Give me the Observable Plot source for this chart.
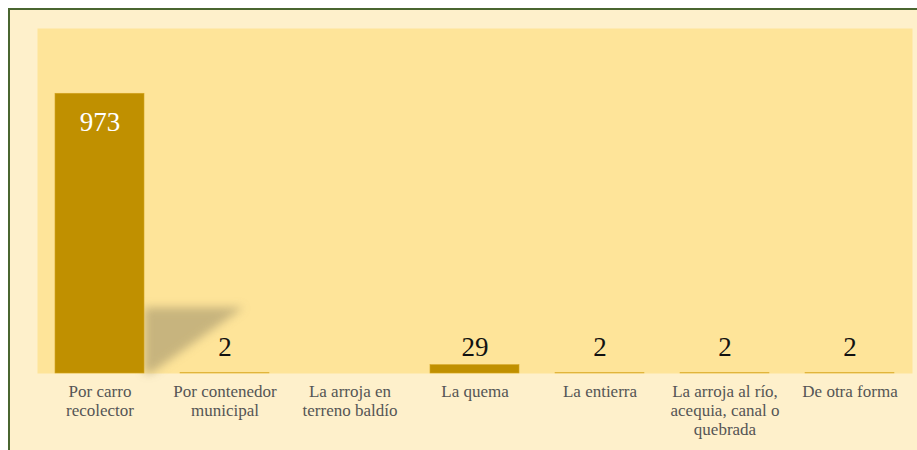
<!DOCTYPE html>
<html>
<head>
<meta charset="utf-8">
<script src="https://cdn.jsdelivr.net/npm/d3@7"></script>
<script src="https://cdn.jsdelivr.net/npm/@observablehq/plot@0.6"></script>
<style>
  html, body { margin: 0; padding: 0; background: #ffffff; width: 917px; height: 450px; overflow: hidden; }
  #frame {
    position: absolute; left: 8px; top: 8px; width: 1000px; height: 500px;
    border: 2px solid #4a6630; background: #fef0cb;
  }
  #chart { position: absolute; left: 10px; top: 10px; }
</style>
</head>
<body>
<div id="frame"></div>
<div id="chart"></div>
<script>
const categories = [
  "Por carro\nrecolector",
  "Por contenedor\nmunicipal",
  "La arroja en\nterreno baldío",
  "La quema",
  "La entierra",
  "La arroja al río,\nacequia, canal o\nquebrada",
  "De otra forma"
];
const values = [973, 2, 0, 29, 2, 2, 2];
const yMax = 1200;

const data = categories.map((c, i) => ({cat: c, value: values[i]}));
const bigThreshold = 500;

// decorative shadow behind the tallest bar, positioned from scales
const shadowMark = (index, scales, vals, dims, context) => {
  const svgNS = "http://www.w3.org/2000/svg";
  const g = document.createElementNS(svgNS, "g");
  const defs = document.createElementNS(svgNS, "defs");
  defs.innerHTML = `<filter id="blurShadow" x="-30%" y="-30%" width="160%" height="160%"><feGaussianBlur stdDeviation="5"/></filter>`;
  g.appendChild(defs);
  const top = data.reduce((a, b) => (b.value > a.value ? b : a));
  const x0 = scales.x(top.cat) + scales.x.bandwidth();
  const y0 = scales.y(0);
  const bw = scales.x.bandwidth();
  const h = (y0 - scales.y(top.value)) * 0.235;
  const p = document.createElementNS(svgNS, "path");
  p.setAttribute("d", `M${x0},${y0} L${x0},${y0 - h} L${x0 + bw * 1.12},${y0 - h} L${x0 + bw * 0.08},${y0} Z`);
  p.setAttribute("fill", "#b5a474");
  p.setAttribute("opacity", "0.75");
  p.setAttribute("filter", "url(#blurShadow)");
  g.appendChild(p);
  return g;
};

const chart = Plot.plot({
  width: 907,
  height: 440,
  marginLeft: 27,
  marginRight: 5,
  marginTop: 18,
  marginBottom: 77,
  style: { background: "transparent", fontFamily: "'Liberation Serif', serif" },
  x: { domain: categories, paddingInner: 0.29, paddingOuter: 0.145, label: null },
  y: { domain: [0, yMax], axis: null },
  marks: [
    Plot.frame({ fill: "#fee499", stroke: null }),
    shadowMark,
    Plot.barY(data, { x: "cat", y: "value", fill: "#c09000", stroke: d => d.value < 10 ? "#e2b53c" : "#d4a420", strokeWidth: 0.6 }),
    Plot.axisX({ tickSize: 0, tickPadding: 10, fontSize: 17, fill: "#555555", lineHeight: 1.12 }),
    Plot.text(data.filter(d => d.value > 0 && d.value < bigThreshold), {
      x: "cat", frameAnchor: "bottom", text: d => String(d.value), lineAnchor: "bottom", dy: -18,
      fontSize: 27, fill: "#111111"
    }),
    Plot.text(data.filter(d => d.value >= bigThreshold), {
      x: "cat", y: "value", text: d => String(d.value), lineAnchor: "top", dy: 18,
      fontSize: 27, fill: "#ffffff"
    })
  ]
});
document.getElementById("chart").appendChild(chart);
</script>
</body>
</html>
